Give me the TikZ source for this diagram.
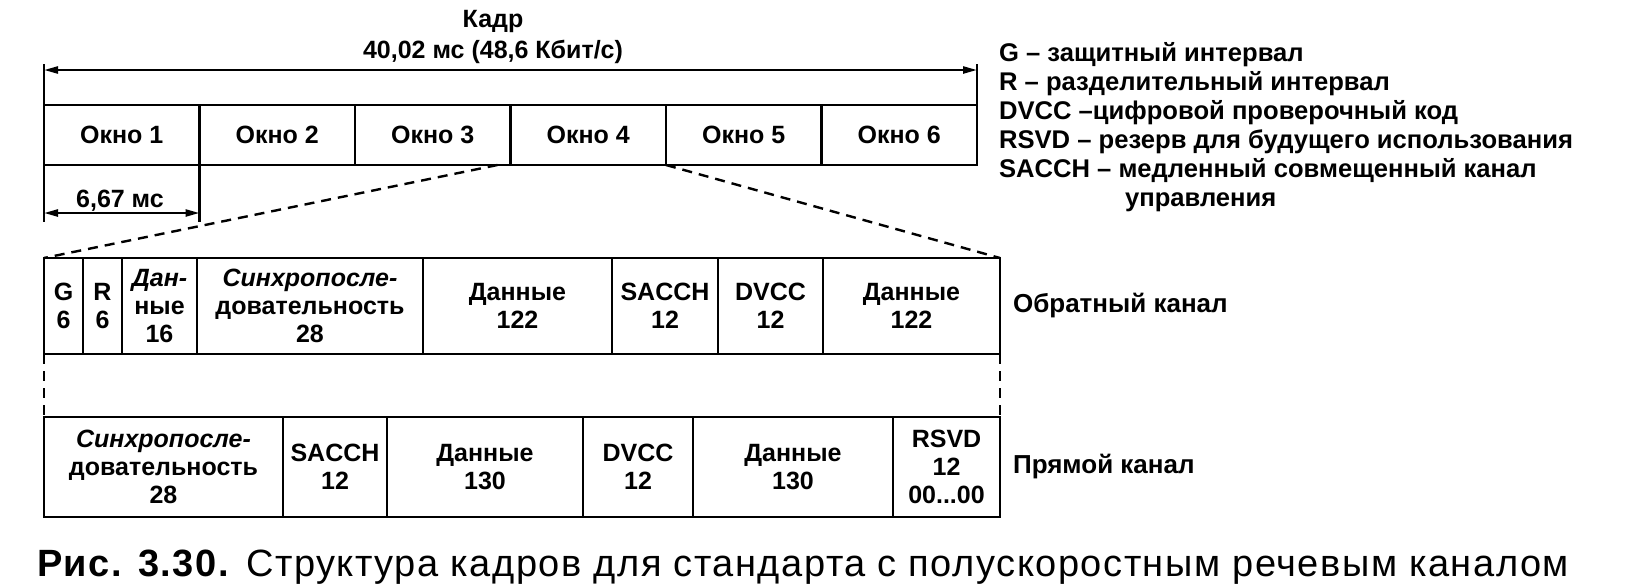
\documentclass[tikz,border=0pt]{standalone}
\usepackage{fontspec}
\setmainfont{Liberation Sans}
\newfontfamily\capfont[LetterSpace=4]{Liberation Sans}
\usetikzlibrary{arrows.meta, positioning, calc}

\begin{document}
\begin{tikzpicture}[
  x=0.5pt, y=-0.5pt,
  every node/.style={font=\fontsize{12.5}{14}\selectfont\bfseries},
  winbox/.style={draw, line width=1.4pt, minimum width=77.75pt, minimum height=30pt,
                 inner sep=0pt, outer sep=0pt},
  slotbox/.style={draw, line width=1.4pt, minimum height=48pt, inner sep=0pt,
                  outer sep=0pt, align=center},
  fwdbox/.style={slotbox, minimum height=50pt},
  dim/.style={{Triangle[length=7pt,width=3.5pt]}-{Triangle[length=7pt,width=3.5pt]}, line width=1.2pt},
  tick/.style={line width=1.2pt},
  zoomline/.style={line width=1.2pt, dash pattern=on 5pt off 3.5pt},
]
\fill[white] (0,0) rectangle (1642,585);
\useasboundingbox (0,0) rectangle (1642,585);

% ---- Frame header ----
\node[font=\fontsize{12.5}{15.5}\selectfont\bfseries, align=center] (hdr) at (493,37)
  {Кадр\\40,02 мс (48,6 Кбит/с)};

% ---- Six windows ----
\node[winbox, anchor=north west] (w1) at (44,105) {Окно 1};
\node[winbox, right=0pt of w1] (w2) {Окно 2};
\node[winbox, right=0pt of w2] (w3) {Окно 3};
\node[winbox, right=0pt of w3] (w4) {Окно 4};
\node[winbox, right=0pt of w4] (w5) {Окно 5};
\node[winbox, right=0pt of w5] (w6) {Окно 6};

\coordinate (fl) at ($(w1.north west)+(0,-35)$);
\coordinate (fr) at ($(w6.north east)+(0,-35)$);
\draw[dim] (fl) -- (fr);
\draw[tick] ($(fl)+(0,-6)$) -- (w1.north west);
\draw[tick] ($(fr)+(0,-6)$) -- (w6.north east);

\coordinate (sl) at ($(w1.south west)+(0,48)$);
\coordinate (sr) at ($(w1.south east)+(0,48)$);
\draw[dim] (sl) -- (sr);
\draw[tick] (w1.south west) -- ($(sl)+(0,9)$);
\draw[tick] (w1.south east) -- ($(sr)+(0,9)$);
\node[anchor=base] (t667) at (120,207) {6,67 мс};

% ---- Reverse channel slot ----
\node[slotbox, minimum width=19.5pt, anchor=north west] (g) at (44,258) {G\\6};
\node[slotbox, minimum width=19.5pt, right=0pt of g] (r) {R\\6};
\node[slotbox, minimum width=37.5pt, right=0pt of r] (d16) {{\itshape Дан-}\\ные\\16};
\node[slotbox, minimum width=113pt, right=0pt of d16] (sy1) {{\itshape Синхропосле-}\\довательность\\28};
\node[slotbox, minimum width=94.5pt, right=0pt of sy1] (d1) {Данные\\122};
\node[slotbox, minimum width=53pt, right=0pt of d1] (sa1) {SACCH\\12};
\node[slotbox, minimum width=52.5pt, right=0pt of sa1] (dv1) {DVCC\\12};
\node[slotbox, minimum width=88.5pt, right=0pt of dv1] (d2) {Данные\\122};
\node[right=3pt of d2, font=\fontsize{13}{14}\selectfont\bfseries] (rev) {Обратный канал};

% ---- Forward channel slot ----
\node[fwdbox, minimum width=119.5pt, anchor=north west] (sy2) at (44,417) {{\itshape Синхропосле-}\\довательность\\28};
\node[fwdbox, minimum width=52pt, right=0pt of sy2] (sa2) {SACCH\\12};
\node[fwdbox, minimum width=98pt, right=0pt of sa2] (d3) {Данные\\130};
\node[fwdbox, minimum width=55pt, right=0pt of d3] (dv2) {DVCC\\12};
\node[fwdbox, minimum width=100pt, right=0pt of dv2] (d4) {Данные\\130};
\node[fwdbox, minimum width=53.5pt, right=0pt of d4] (rsvd) {RSVD\\12\\00...00};
\node[right=3pt of rsvd, font=\fontsize{13}{14}\selectfont\bfseries] (fwd) {Прямой канал};

% zoom lines
\draw[zoomline] ($(w4.south west)+(-13,0)$) -- (g.north west);
\draw[zoomline] (w4.south east) -- (d2.north east);
\draw[zoomline] (g.south west) -- (sy2.north west);
\draw[zoomline] (d2.south east) -- (rsvd.north east);

% ---- Legend ----
\node[font=\fontsize{12.8}{14.5}\selectfont\bfseries, align=left, anchor=north west] (legend) at (992,35) {
  G -- защитный интервал\\
  R -- разделительный интервал\\
  DVCC --цифровой проверочный код\\
  RSVD -- резерв для будущего использования\\
  SACCH -- медленный совмещенный канал\\
  \hspace*{63pt}управления
};

% ---- Caption ----
\node[font=\capfont\fontsize{19}{21}\selectfont, anchor=base west] (cap) at (30,576)
  {\textbf{Рис. 3.30.} Структура кадров для стандарта с полускоростным речевым каналом};

\end{tikzpicture}
\end{document}
